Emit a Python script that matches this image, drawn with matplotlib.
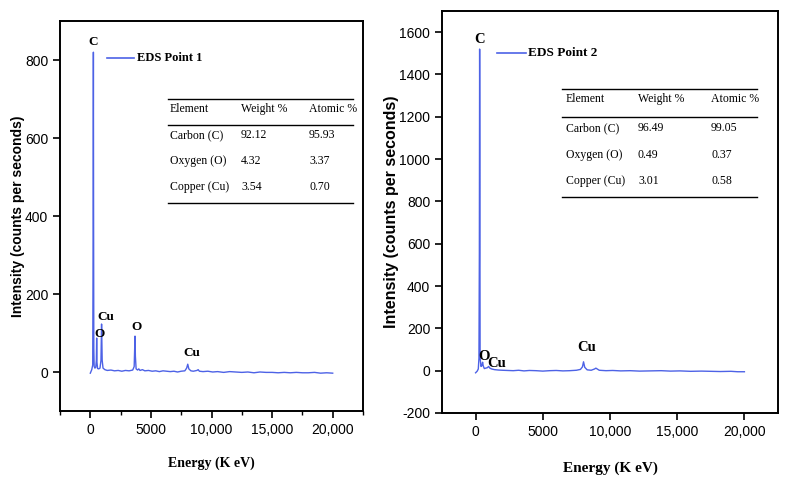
import matplotlib.pyplot as plt
from matplotlib.ticker import FuncFormatter, MultipleLocator

plt.rcParams['axes.unicode_minus'] = False

# ==========================================
# EDS spectra
# ==========================================
energy_1 = [0, 120, 200, 235, 255, 270, 290, 320, 380, 450, 500, 525, 550,
            600, 700, 800, 880, 930, 980, 1050, 1200, 1400, 1700, 2000, 2300,
            2600, 2900, 3200, 3500, 3620, 3690, 3720, 3780, 3900, 4000, 4100,
            4300, 4500, 4800, 5100, 5400, 5700, 6000, 6300, 6600, 6900, 7200,
            7500, 7800, 7950, 8040, 8130, 8300, 8500, 8800, 8900, 9000, 9300,
            9700, 10100, 10500, 11000, 11500, 12000, 12500, 13000, 13500,
            14000, 14500, 15000, 15500, 16000, 16500, 17000, 17500, 18000,
            18500, 19000, 19500, 20000]
counts_1 = [-3, 6, 18, 345, 820, 410, 60, 14, 10, 12, 30, 87, 25,
            9, 8, 10, 30, 123, 30, 10, 6, 4, 5, 3, 4,
            2, 4, 3, 5, 14, 92, 40, 8, 5, 8, 4,
            6, 3, 4, 2, 3, 1, 3, 2, 1, 2, 0,
            2, 3, 10, 20, 8, 3, 2, 4, 6, 2, 1,
            2, 0, 1, -1, 1, 0, -1, 0, -2, 0, -1, -1, -2, -1, -2, -1, -2, -2,
            -1, -3, -2, -3]

energy_2 = [0, 120, 200, 250, 280, 300, 315, 335, 400, 470, 520, 570, 650,
            750, 870, 970, 1060, 1200, 1400, 1700, 2000, 2400, 2800, 3200,
            3600, 4000, 4500, 5000, 5500, 6000, 6500, 7000, 7500, 7800, 7950,
            8030, 8120, 8300, 8600, 8850, 8950, 9200, 9700, 10200, 10800,
            11500, 12200, 13000, 13800, 14500, 15200, 16000, 16800, 17500,
            18200, 19000, 19500, 20000]
counts_2 = [-10, -2, 8, 60, 555, 1520, 1070, 60, 20, 25, 40, 22, 10,
            12, 14, 20, 12, 8, 5, 3, 2, 1, 0, 2,
            -1, 1, 0, -2, 0, 1, -1, 0, 2, 6, 18,
            42, 16, 4, 2, 8, 12, 2, 0, 1, -1,
            0, -2, -1, 0, -2, -1, -3, -2, -3,
            -4, -3, -5, -5]

peaks_1 = [("C", 250, 845), ("Cu", 1240, 141), ("O", 740, 98),
           ("O", 3800, 116), ("Cu", 8350, 49)]
peaks_2 = [("C", 300, 1565), ("O", 595, 66), ("Cu", 1560, 33),
           ("Cu", 8250, 109)]

table_cols = ["Element", "Weight %", "Atomic %"]
elements = ["Carbon (C)", "Oxygen (O)", "Copper (Cu)"]
weight_1 = ["92.12", "4.32", "3.54"]
atomic_1 = ["95.93", "3.37", "0.70"]
weight_2 = ["96.49", "0.49", "3.01"]
atomic_2 = ["99.05", "0.37", "0.58"]

line_color = "#4d62e6"
serif = "Liberation Serif"
sans = "Liberation Sans"

fig = plt.figure(figsize=(7.88, 4.84), dpi=100)

W, H = 788, 484


def add_axes_px(x0, y0, x1, y1):
    return fig.add_axes([x0 / W, 1 - y1 / H, (x1 - x0) / W, (y1 - y0) / H])


def fig_xy(px, py):
    return px / W, 1 - py / H


def style_axes(ax, ylim, yticks, minor_x):
    ax.set_xlim(-2500, 22500)
    ax.set_ylim(*ylim)
    ax.set_xticks([0, 5000, 10000, 15000, 20000])
    ax.xaxis.set_major_formatter(FuncFormatter(
        lambda v, p: "0" if v == 0 else ("5000" if v == 5000 else f"{int(v):,}")))
    ax.set_yticks(yticks)
    if minor_x:
        ax.xaxis.set_minor_locator(MultipleLocator(2500))
    ax.tick_params(which="major", direction="out", length=5, width=1.2,
                   labelsize=10, top=False, right=False)
    ax.tick_params(which="minor", direction="out", length=3, width=1.0,
                   top=False, right=False)
    for lab in ax.get_xticklabels() + ax.get_yticklabels():
        lab.set_family(sans)
    for s in ax.spines.values():
        s.set_linewidth(1.4)


def draw_table(x0, x1, y_rules, y_rows, x_cols, weight, atomic):
    for yr in y_rules:
        fx0, fy = fig_xy(x0, yr)
        fx1, _ = fig_xy(x1, yr)
        fig.add_artist(plt.Line2D([fx0, fx1], [fy, fy], color="black",
                                  lw=1.0, transform=fig.transFigure))
    rows = [table_cols] + [[e, w, a] for e, w, a in zip(elements, weight, atomic)]
    for row, yr in zip(rows, y_rows):
        for txt, xc in zip(row, x_cols):
            fx, fy = fig_xy(xc, yr)
            fig.text(fx, fy, txt, ha="left", va="center", family=serif,
                     fontsize=8.5)


# ---------------- left panel ----------------
ax1 = add_axes_px(60, 21, 363, 411)
ax1.plot(energy_1, counts_1, color=line_color, lw=1.0)
style_axes(ax1, (-100, 900), [0, 200, 400, 600, 800], True)
ax1.set_xlabel("Energy (K eV)", family=serif, fontweight="bold", fontsize=10,
               labelpad=14)
ax1.set_ylabel("Intensity (counts per seconds)", family=sans,
               fontweight="bold", fontsize=10)
ax1.yaxis.set_label_coords(-0.115, 0.5)
for name, x, y in peaks_1:
    ax1.text(x, y, name, ha="center", va="center", family=serif,
             fontweight="bold", fontsize=9.5)
fx0, fy = fig_xy(107, 58)
fx1, _ = fig_xy(134, 58)
fig.add_artist(plt.Line2D([fx0, fx1], [fy, fy], color=line_color, lw=1.2,
                          transform=fig.transFigure))
fig.text(*fig_xy(137, 58), "EDS Point 1", ha="left", va="center",
         family=serif, fontweight="bold", fontsize=9)
draw_table(168, 353, [99, 125, 203], [109, 135, 161, 187], [170, 241, 309],
           weight_1, atomic_1)

# ---------------- right panel ----------------
ax2 = add_axes_px(442, 11, 778, 413)
ax2.plot(energy_2, counts_2, color=line_color, lw=1.0)
style_axes(ax2, (-200, 1700), list(range(-200, 1601, 200)), False)
ax2.set_xlabel("Energy (K eV)", family=serif, fontweight="bold", fontsize=11,
               labelpad=16)
ax2.set_ylabel("Intensity (counts per seconds)", family=sans,
               fontweight="bold", fontsize=11.5)
ax2.yaxis.set_label_coords(-0.128, 0.5)
for name, x, y in peaks_2:
    ax2.text(x, y, name, ha="center", va="center", family=serif,
             fontweight="bold", fontsize=10.5)
fx0, fy = fig_xy(497, 53)
fx1, _ = fig_xy(526, 53)
fig.add_artist(plt.Line2D([fx0, fx1], [fy, fy], color=line_color, lw=1.2,
                          transform=fig.transFigure))
fig.text(*fig_xy(528, 53), "EDS Point 2", ha="left", va="center",
         family=serif, fontweight="bold", fontsize=9.5)
draw_table(562, 757, [89, 117, 197], [99, 128, 155, 181], [566, 638, 711],
           weight_2, atomic_2)

fig.savefig("out.png", dpi=100)
